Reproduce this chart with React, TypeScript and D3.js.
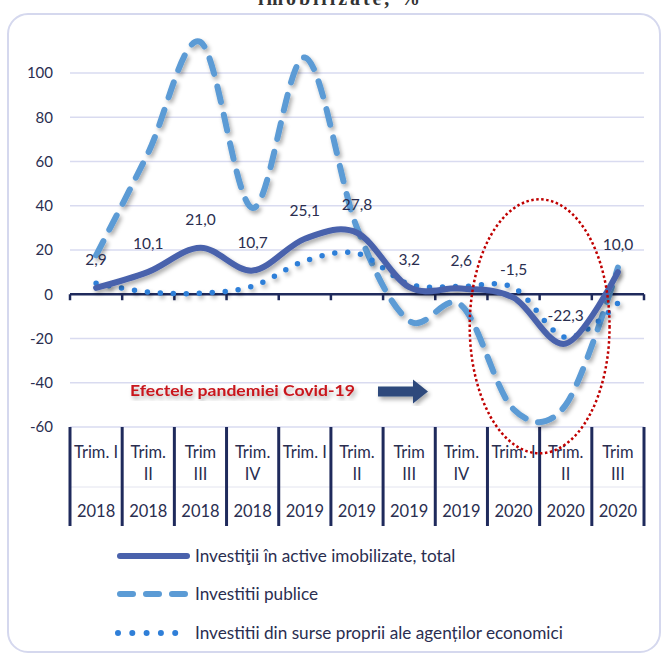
import * as d3 from "d3"
import { useRef, useEffect } from "react"

// categories (second line after "|")
const quarters = ["Trim. I", "Trim.|II", "Trim|III", "Trim.|IV", "Trim. I", "Trim.|II", "Trim|III", "Trim.|IV", "Trim. I", "Trim.|II", "Trim|III"]
const years = ["2018", "2018", "2018", "2018", "2019", "2019", "2019", "2019", "2020", "2020", "2020"]

// series, %
const totalValues = [2.9, 10.1, 21.0, 10.7, 25.1, 27.8, 3.2, 2.6, -1.5, -22.3, 10.0]
const publicValues = [17.6, 64, 114, 39, 107, 30, -12, -5, -52, -50, 12]
const ownValues = [5, 1, 0.5, 3.6, 15, 18.5, 4.5, 3.5, 3, -19.5, -4]

const yTicks = [-60, -40, -20, 0, 20, 40, 60, 80, 100]
const legendLabels = [
  "Investiţii în active imobilizate, total",
  "Investitii publice",
  "Investitii din surse proprii ale agenților economici",
]

const W = 663
const H = 656
const FONT = "Lato, 'Open Sans', sans-serif"
const TXT = "#2a2e50"

const App = () => {
  const svgRef = useRef<SVGSVGElement>(null)

  useEffect(() => {
    const svg = d3.select(svgRef.current)
    svg.selectAll("*").remove()

    const left = 70
    const right = 644
    const top = 73
    const bottom = 427

    const idx = quarters.map((_, i) => i)
    const x = d3.scaleBand<number>().domain(idx).range([left, right])
    const y = d3.scaleLinear().domain([-60, 100]).range([bottom, top])
    const cx = (i: number) => (x(i) as number) + x.bandwidth() / 2

    const defs = svg.append("defs")
    const f = defs.append("filter").attr("id", "shadow").attr("x", "-10%").attr("y", "-10%").attr("width", "120%").attr("height", "120%")
    f.append("feDropShadow").attr("dx", 2).attr("dy", 3).attr("stdDeviation", 2).attr("flood-color", "#000").attr("flood-opacity", 0.33)

    // title (cut off at top, as in the source)
    svg.append("text")
      .attr("x", 339).attr("y", 5)
      .attr("text-anchor", "middle")
      .attr("font-family", "'Liberation Serif', serif")
      .attr("font-weight", "bold")
      .attr("font-size", 20)
      .attr("fill", "#333")
      .attr("textLength", 162)
      .text("imobilizate, %")

    // frame
    svg.append("rect")
      .attr("x", 8).attr("y", 14).attr("width", 652).attr("height", 638)
      .attr("rx", 20)
      .attr("fill", "none")
      .attr("stroke", "#d5d8ee")
      .attr("stroke-width", 2)

    // gridlines
    svg.append("g").selectAll("line")
      .data(yTicks.filter((t) => t !== 0))
      .join("line")
      .attr("x1", left).attr("x2", right)
      .attr("y1", (d) => y(d)).attr("y2", (d) => y(d))
      .attr("stroke", "#d9dbf0").attr("stroke-width", 1.5)

    // y labels
    svg.append("g").selectAll("text")
      .data(yTicks)
      .join("text")
      .attr("x", 53).attr("y", (d) => y(d))
      .attr("dy", "0.35em")
      .attr("text-anchor", "end")
      .attr("font-family", FONT).attr("font-size", 15)
      .attr("fill", TXT)
      .text((d) => d)

    // category table
    const boundaries = [...idx.map((i) => x(i) as number), right]
    svg.append("line")
      .attr("x1", left).attr("x2", right)
      .attr("y1", 487).attr("y2", 487)
      .attr("stroke", "#e3e4ef").attr("stroke-width", 1)
    svg.append("g").selectAll("line")
      .data(boundaries)
      .join("line")
      .attr("x1", (d) => d).attr("x2", (d) => d)
      .attr("y1", bottom).attr("y2", 526)
      .attr("stroke", "#1f2a5c").attr("stroke-width", 3)

    const cat = svg.append("g").attr("font-family", FONT).attr("font-size", 16.5).attr("fill", TXT).attr("text-anchor", "middle")
    quarters.forEach((q, i) => {
      q.split("|").forEach((line, k) => {
        cat.append("text").attr("x", cx(i)).attr("y", 452 + k * 22).attr("dy", "0.35em").text(line)
      })
      cat.append("text").attr("x", cx(i)).attr("y", 511).attr("dy", "0.35em").text(years[i])
    })

    // zero axis + ticks
    svg.append("line")
      .attr("x1", left).attr("x2", right)
      .attr("y1", y(0)).attr("y2", y(0))
      .attr("stroke", "#1f2a5c").attr("stroke-width", 2.5)
    svg.append("g").selectAll("line")
      .data(boundaries)
      .join("line")
      .attr("x1", (d) => d).attr("x2", (d) => d)
      .attr("y1", y(0)).attr("y2", y(0) + 6)
      .attr("stroke", "#1f2a5c").attr("stroke-width", 2.5)

    const line = d3.line<number>()
      .x((_, i) => cx(i))
      .y((d) => y(d))
      .curve(d3.curveCardinal.tension(0))

    // public investments (dashed)
    svg.append("path")
      .attr("d", line(publicValues))
      .attr("fill", "none")
      .attr("stroke", "#5b9bd5").attr("stroke-width", 6)
      .attr("stroke-dasharray", "16 13")
      .attr("stroke-linecap", "round")
      .attr("filter", "url(#shadow)")

    // own sources (dotted)
    svg.append("path")
      .attr("d", line(ownValues))
      .attr("fill", "none")
      .attr("stroke", "#2f7fd8").attr("stroke-width", 5.5)
      .attr("stroke-dasharray", "0 13")
      .attr("stroke-linecap", "round")
      .attr("filter", "url(#shadow)")

    // total
    svg.append("path")
      .attr("d", line(totalValues))
      .attr("fill", "none")
      .attr("stroke", "#4a62ac").attr("stroke-width", 6)
      .attr("stroke-linecap", "round")
      .attr("filter", "url(#shadow)")

    // data labels
    svg.append("g").selectAll("text")
      .data(totalValues)
      .join("text")
      .attr("x", (_, i) => cx(i))
      .attr("y", (d) => y(d) - 28)
      .attr("dy", "0.35em")
      .attr("text-anchor", "middle")
      .attr("font-family", FONT).attr("font-size", 15.5)
      .attr("fill", TXT)
      .text((d) => d3.format(".1f")(d).replace(".", ",").replace("−", "-"))

    // covid annotation
    svg.append("text")
      .attr("x", 130).attr("y", y(-43.5))
      .attr("dy", "0.35em")
      .attr("font-family", FONT).attr("font-weight", "bold").attr("font-size", 15)
      .attr("fill", "#c8161d")
      .attr("textLength", 225).attr("lengthAdjust", "spacingAndGlyphs")
      .attr("filter", "url(#shadow)")
      .text("Efectele pandemiei Covid-19")

    const ay = y(-43.5) + 1
    svg.append("path")
      .attr("d", `M378,${ay - 5}L413,${ay - 5}L413,${ay - 12}L428,${ay}L413,${ay + 12}L413,${ay + 5}L378,${ay + 5}Z`)
      .attr("fill", "#2f4a7c")
      .attr("filter", "url(#shadow)")

    // ellipse around 2020
    svg.append("ellipse")
      .attr("cx", x(9) as number).attr("cy", y(-14.5))
      .attr("rx", x.bandwidth() * 1.34).attr("ry", 127)
      .attr("fill", "none")
      .attr("stroke", "#c00000").attr("stroke-width", 2.5)
      .attr("stroke-dasharray", "2.5 2.5")

    // legend
    const lg = svg.append("g")
    const lys = [556, 594, 633]
    const styles = [
      { c: "#4a62ac", dash: null },
      { c: "#5b9bd5", dash: "13 13" },
      { c: "#2f7fd8", dash: "0 14.3" },
    ]
    legendLabels.forEach((t, i) => {
      lg.append("line")
        .attr("x1", i === 2 ? 118 : 120).attr("x2", i === 2 ? 176 : 187)
        .attr("y1", lys[i]).attr("y2", lys[i])
        .attr("stroke", styles[i].c).attr("stroke-width", 6)
        .attr("stroke-linecap", "round")
        .attr("stroke-dasharray", styles[i].dash)
      lg.append("text")
        .attr("x", 195).attr("y", lys[i])
        .attr("dy", "0.35em")
        .attr("font-family", FONT).attr("font-size", 17.2)
        .attr("fill", TXT)
        .text(t)
    })
  }, [])

  return (
    <svg
      ref={svgRef}
      width={W}
      height={H}
      style={{ position: "absolute", left: 0, top: 0, background: "#fff" }}
    ></svg>
  )
}

export default App
